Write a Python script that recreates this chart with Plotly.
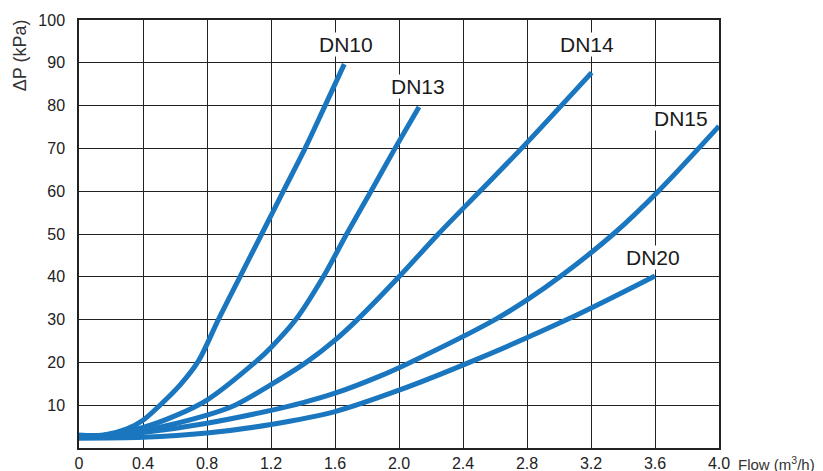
import plotly.graph_objects as go

# ---- data ----
flow_dn10 = [0, 0.15, 0.3, 0.4, 0.506, 0.631, 0.746, 0.871, 1.006, 1.142, 1.277, 1.413, 1.538, 1.658]
dp_dn10 = [3.0, 3.0, 4.5, 6.5, 10, 14.7, 20.3, 30, 40, 50, 60, 70, 80, 89.7]

flow_dn13 = [0, 0.15, 0.4, 0.6, 0.8, 1.1, 1.2, 1.355, 1.527, 1.673, 1.825, 1.975, 2.125]
dp_dn13 = [3.0, 3.0, 4.8, 7.5, 11.2, 20, 23.5, 30, 40, 50, 60, 70, 79.7]

flow_dn14 = [0, 0.15, 0.4, 0.8, 0.975, 1.2, 1.42, 1.6, 1.74, 2.0, 2.246, 2.506, 2.766, 3.204]
dp_dn14 = [2.9, 2.9, 4.1, 7.7, 10, 14.8, 20, 25.2, 30, 40, 50, 60, 70, 87.7]

flow_dn15 = [0, 0.15, 0.4, 0.8, 1.2, 1.4, 1.6, 1.88, 2.07, 2.6, 2.8, 3.006, 3.34, 3.621, 4.0]
dp_dn15 = [2.7, 2.7, 3.6, 5.8, 8.8, 10.6, 12.8, 16.8, 20, 30, 34.6, 40, 50, 60, 75.2]

flow_dn20 = [0, 0.4, 0.8, 1.2, 1.6, 2.0, 2.44, 3.05, 3.6]
dp_dn20 = [2.3, 2.5, 3.5, 5.5, 8.5, 13.5, 20, 30, 40.2]

series_names = ["DN10", "DN13", "DN14", "DN15", "DN20"]
label_flow = [1.667, 2.12, 3.175, 3.76, 3.59]
label_dp = [94.2, 84.4, 94.2, 77.1, 44.6]

x_ticks = [0, 0.4, 0.8, 1.2, 1.6, 2.0, 2.4, 2.8, 3.2, 3.6, 4.0]
x_tick_text = ["0", "0.4", "0.8", "1.2", "1.6", "2.0", "2.4", "2.8", "3.2", "3.6", "4.0"]
y_ticks = [10, 20, 30, 40, 50, 60, 70, 80, 90, 100]

BLUE = "#1a77bf"
FONT = "Liberation Sans, Arial, sans-serif"

fig = go.Figure()
for fx, fy in [(flow_dn10, dp_dn10), (flow_dn13, dp_dn13), (flow_dn14, dp_dn14),
               (flow_dn15, dp_dn15), (flow_dn20, dp_dn20)]:
    fig.add_trace(go.Scatter(x=fx, y=fy, mode="lines",
                             line=dict(color=BLUE, width=5, shape="spline", smoothing=0.9),
                             showlegend=False, hoverinfo="skip"))

for name, lx, ly in zip(series_names, label_flow, label_dp):
    fig.add_annotation(x=lx, y=ly, text=name, showarrow=False,
                       font=dict(family=FONT, size=21, color="#1a1a1a"),
                       bgcolor="white", borderpad=0, xanchor="center", yanchor="middle")

fig.add_annotation(xref="paper", yref="paper", x=-0.092, y=0.918,
                   text="ΔP (kPa)", textangle=-90, showarrow=False,
                   font=dict(family=FONT, size=18, color="#333333"),
                   xanchor="center", yanchor="middle")
fig.add_annotation(xref="paper", yref="paper", x=1.027, y=-0.036,
                   text="Flow (m<sup>3</sup>/h)", showarrow=False,
                   font=dict(family=FONT, size=15, color="#333333"),
                   xanchor="left", yanchor="middle")

fig.update_xaxes(range=[0, 4.0], tickvals=x_ticks, ticktext=x_tick_text,
                 showgrid=True, gridcolor="#222222", gridwidth=1.3,
                 showline=True, linecolor="#222222", linewidth=1.5, mirror=True,
                 zeroline=False, ticks="", ticklabelstandoff=0, automargin=False,
                 tickfont=dict(family=FONT, size=16, color="#222222"))
fig.update_yaxes(range=[0, 100], tickvals=y_ticks,
                 showgrid=True, gridcolor="#222222", gridwidth=1.3,
                 showline=True, linecolor="#222222", linewidth=1.5, mirror=True,
                 zeroline=False, ticks="", ticklabelstandoff=9, automargin=False,
                 tickfont=dict(family=FONT, size=16, color="#222222"))

fig.update_layout(width=815, height=463,
                  margin=dict(l=71, r=104, t=12, b=23, autoexpand=False),
                  plot_bgcolor="white", paper_bgcolor="white")

fig.write_html("out.html")
